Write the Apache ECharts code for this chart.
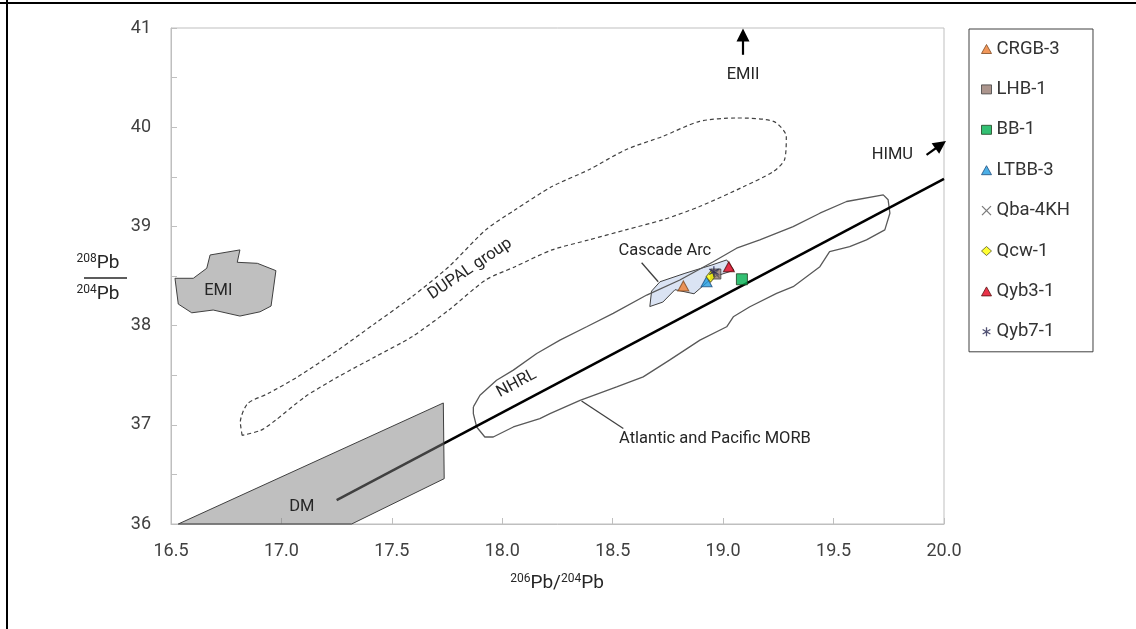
<!DOCTYPE html>
<html><head><meta charset="utf-8">
<script src="https://cdn.jsdelivr.net/npm/echarts@6/dist/echarts.min.js"></script>
<style>html,body{margin:0;padding:0;background:#fff}#c{width:1136px;height:629px}</style>
</head><body><div id="c"></div>
<script>
// ---- sample data (206Pb/204Pb, 208Pb/204Pb) ----
const samples = ['CRGB-3','LHB-1','BB-1','LTBB-3','Qba-4KH','Qcw-1','Qyb3-1','Qyb7-1'];
const pb206 = [18.82, 18.967, 19.085, 18.925, 18.963, 18.943, 19.026, 18.958];
const pb208 = [38.40, 38.52, 38.467, 38.442, 38.527, 38.493, 38.594, 38.543];

// ---- axis ticks ----
const xTicks = [16.5, 17.0, 17.5, 18.0, 18.5, 19.0, 19.5, 20.0];
const yTicks = [36, 37, 38, 39, 40, 41];

// ---- reference fields ----
const dupalOutline = [[16.822,36.894],[16.814,37.028],[16.847,37.214],[16.939,37.315],[17.073,37.483],[17.256,37.753],[17.424,38.022],[17.591,38.291],[17.758,38.594],[17.925,38.965],[18.058,39.167],[18.225,39.402],[18.392,39.571],[18.559,39.773],[18.726,39.907],[18.893,40.059],[19.060,40.093],[19.228,40.059],[19.286,39.907],[19.278,39.672],[19.228,39.554],[19.094,39.402],[18.893,39.200],[18.726,39.066],[18.559,38.965],[18.392,38.864],[18.225,38.763],[18.058,38.594],[17.925,38.460],[17.758,38.157],[17.591,37.887],[17.424,37.685],[17.256,37.483],[17.106,37.281],[16.973,37.045],[16.906,36.944],[16.822,36.894]];
const morbOutline = [[17.869,37.180],[17.899,37.298],[17.974,37.449],[18.050,37.551],[18.156,37.719],[18.261,37.854],[18.382,37.988],[18.502,38.123],[18.654,38.308],[18.804,38.460],[18.955,38.644],[19.061,38.780],[19.166,38.864],[19.317,38.998],[19.438,39.133],[19.559,39.251],[19.725,39.318],[19.747,39.268],[19.755,39.133],[19.732,38.965],[19.649,38.864],[19.573,38.796],[19.482,38.745],[19.438,38.594],[19.317,38.392],[19.242,38.325],[19.121,38.190],[19.046,38.089],[19.016,37.988],[18.895,37.854],[18.757,37.652],[18.638,37.483],[18.518,37.382],[18.352,37.247],[18.216,37.113],[18.170,37.063],[18.050,36.978],[17.959,36.877],[17.921,36.877],[17.884,36.978],[17.869,37.113],[17.869,37.180]];
const cascadeField = [[18.668,38.192],[18.676,38.348],[18.714,38.442],[18.827,38.527],[18.949,38.611],[19.016,38.662],[19.049,38.558],[18.955,38.490],[18.868,38.321],[18.782,38.362],[18.727,38.237]];
const emiField = [[16.518,38.477],[16.601,38.477],[16.662,38.578],[16.677,38.712],[16.812,38.763],[16.800,38.638],[16.891,38.628],[16.975,38.554],[16.953,38.197],[16.903,38.139],[16.812,38.096],[16.691,38.157],[16.594,38.129],[16.533,38.217]];
const dmField = [[16.533,36.0],[17.733,37.220],[17.737,36.457],[17.318,36.0]];
const nhrlLine = [[17.25,36.24],[20.0,39.48]];
const cascadeLeader = [[18.631,38.634],[18.706,38.442]];
const morbLeader = [[18.359,37.240],[18.548,36.962]];
const emiiArrow = [[19.09,40.73],[19.09,40.93]];
const himuArrow = [[19.921,39.722],[19.985,39.823]];

// ---- annotations ----
const annotText = ['EMI','DM','EMII','HIMU','Cascade Arc','DUPAL group','NHRL','Atlantic and Pacific MORB'];
const annotX = [16.714, 17.092, 19.09, 19.766, 18.736, 17.854, 18.065, 18.963];
const annotY = [38.351, 36.17, 40.53, 39.72, 38.753, 38.571, 37.416, 36.86];
const annotRot = [0, 0, 0, 0, 0, 34, 28, 0];

const FONT = 'Roboto, "Liberation Sans", sans-serif';

const styles = [
  {symbol:'triangle', size:[11,10], itemStyle:{color:'#ed7d31', borderColor:'#7f4a20', borderWidth:1}},
  {symbol:'rect', size:10, itemStyle:{color:'#977a70', borderColor:'#404040', borderWidth:1}},
  {symbol:'rect', size:11, itemStyle:{color:'#00b050', borderColor:'#1f3f1f', borderWidth:1}},
  {symbol:'triangle', size:[11,10], itemStyle:{color:'#1f9be0', borderColor:'#1f4f7f', borderWidth:1}},
  {symbol:'path://M0,0L10,10M10,0L0,10', size:9, itemStyle:{color:'transparent', borderColor:'#595959', borderWidth:1.3}},
  {symbol:'diamond', size:[9,11], itemStyle:{color:'#ffff00', borderColor:'#5a5a20', borderWidth:1}},
  {symbol:'triangle', size:[11,10], itemStyle:{color:'#e3001b', borderColor:'#5a1010', borderWidth:1}},
  {symbol:'path://M5,0L5,10M0.7,2.5L9.3,7.5M0.7,7.5L9.3,2.5', size:11, itemStyle:{color:'transparent', borderColor:'#262650', borderWidth:1.3}}
];

function polySeries(pts, fill, stroke, z) {
  return {
    type:'custom', data: pts, z: z, silent:true, clip:false,
    encode:{x:0, y:1},
    renderItem: function(params, api) {
      if (params.dataIndex !== 0) return null;
      const points = pts.map(p => api.coord(p));
      return {type:'polygon', shape:{points: points}, style:{fill: fill, stroke: stroke, lineWidth:1}};
    }
  };
}

const series = [];
series.push({type:'line', data: dupalOutline, symbol:'none', smooth:0.25, silent:true, z:2,
  lineStyle:{type:[4,3], color:'#404040', width:1.2}});
series.push(polySeries(cascadeField, '#dae3f3', '#404040', 2));
series.push({type:'line', data: morbOutline, symbol:'none', silent:true, z:3,
  lineStyle:{color:'#595959', width:1.3}});
series.push({type:'line', data: nhrlLine, symbol:'none', silent:true, z:3,
  lineStyle:{color:'#000', width:2.5}});
series.push(polySeries(dmField, 'rgba(128,128,128,0.5)', '#404040', 4));
series.push(polySeries(emiField, '#bfbfbf', '#404040', 4));
series.push({type:'line', data: cascadeLeader, symbol:'none', silent:true, z:3,
  lineStyle:{color:'#404040', width:1.3}});
series.push({type:'line', data: morbLeader, symbol:'none', silent:true, z:3,
  lineStyle:{color:'#404040', width:1.3}});
series.push({type:'lines', coordinateSystem:'cartesian2d', polyline:false, silent:true, z:5, clip:false,
  symbol:['none','triangle'], symbolSize:[11,13],
  lineStyle:{color:'#000', width:2.2, opacity:1},
  data:[{coords: emiiArrow}, {coords: himuArrow}]});
series.push({type:'custom', silent:true, z:6, clip:false,
  data: annotX.map((x,i)=>[x, annotY[i]]), encode:{x:0,y:1},
  renderItem: function(params, api) {
    const i = params.dataIndex;
    const p = api.coord([api.value(0), api.value(1)]);
    return {type:'text', x:p[0], y:p[1], rotation: annotRot[i]*Math.PI/180,
      style:{text: annotText[i], fontFamily: FONT, fontSize:16.5, fill:'#262626', align:'center', verticalAlign:'middle'}};
  }});
samples.forEach((s,i)=>{
  series.push({type:'scatter', name:s, data:[[pb206[i], pb208[i]]], symbol: styles[i].symbol,
    symbolSize: styles[i].size, symbolKeepAspect:true, itemStyle: styles[i].itemStyle, z:10, silent:true});
});

const chart = echarts.init(document.getElementById('c'), null, {renderer:'canvas'});
chart.setOption({
  animation:false,
  backgroundColor:'#fff',
  grid:{left:171, right:192, top:28, bottom:105, show:true, borderColor:'#bfbfbf', borderWidth:1, backgroundColor:'transparent'},
  xAxis:{type:'value', min:xTicks[0], max:xTicks[xTicks.length-1], interval:0.5,
    axisLine:{lineStyle:{color:'#bfbfbf', width:1}},
    axisTick:{show:true, inside:true, length:6, lineStyle:{color:'#bfbfbf'}},
    splitLine:{show:false},
    axisLabel:{margin:18, color:'#404040', fontFamily:FONT, fontSize:18, formatter: v => v.toFixed(1)}},
  yAxis:{type:'value', min:yTicks[0], max:yTicks[yTicks.length-1], interval:0.5,
    axisLine:{show:true, lineStyle:{color:'#bfbfbf', width:1}},
    axisTick:{show:true, inside:true, length:6, lineStyle:{color:'#bfbfbf'}},
    splitLine:{show:false},
    axisLabel:{margin:20, color:'#404040', fontFamily:FONT, fontSize:18,
      formatter: v => (yTicks.indexOf(v) >= 0 ? String(v) : '')}},
  legend:{orient:'vertical', left:969, top:29, itemWidth:10, itemHeight:9, itemGap:20.4,
    padding:[10,23,10,12], borderColor:'#404040', borderWidth:1, selectedMode:false,
    textStyle:{fontFamily:FONT, fontSize:18.5, color:'#333', lineHeight:20},
    data: samples.map((s,i)=>({name:s, icon: styles[i].symbol, itemStyle: styles[i].itemStyle}))},
  graphic:[
    {type:'line', shape:{x1:7, y1:0, x2:7, y2:629}, style:{stroke:'#000', lineWidth:2}},
    {type:'line', shape:{x1:0, y1:3, x2:1136, y2:3}, style:{stroke:'#000', lineWidth:2}},
    {type:'text', x:557, y:583, style:{text:'{s|206}{b|Pb/}{s|204}{b|Pb}', align:'center', verticalAlign:'middle',
      rich:{s:{fontFamily:FONT, fontSize:12, fill:'#262626', padding:[0,0,8,0]}, b:{fontFamily:FONT, fontSize:19, fill:'#262626'}}}},
    {type:'text', x:98, y:263, style:{text:'{s|208}{b|Pb}', align:'center', verticalAlign:'middle',
      rich:{s:{fontFamily:FONT, fontSize:12, fill:'#262626', padding:[0,0,8,0]}, b:{fontFamily:FONT, fontSize:19, fill:'#262626'}}}},
    {type:'line', shape:{x1:84, y1:278, x2:127, y2:278}, style:{stroke:'#262626', lineWidth:1.5}},
    {type:'text', x:98, y:294, style:{text:'{s|204}{b|Pb}', align:'center', verticalAlign:'middle',
      rich:{s:{fontFamily:FONT, fontSize:12, fill:'#262626', padding:[0,0,8,0]}, b:{fontFamily:FONT, fontSize:19, fill:'#262626'}}}}
  ],
  series: series
});
</script></body></html>
